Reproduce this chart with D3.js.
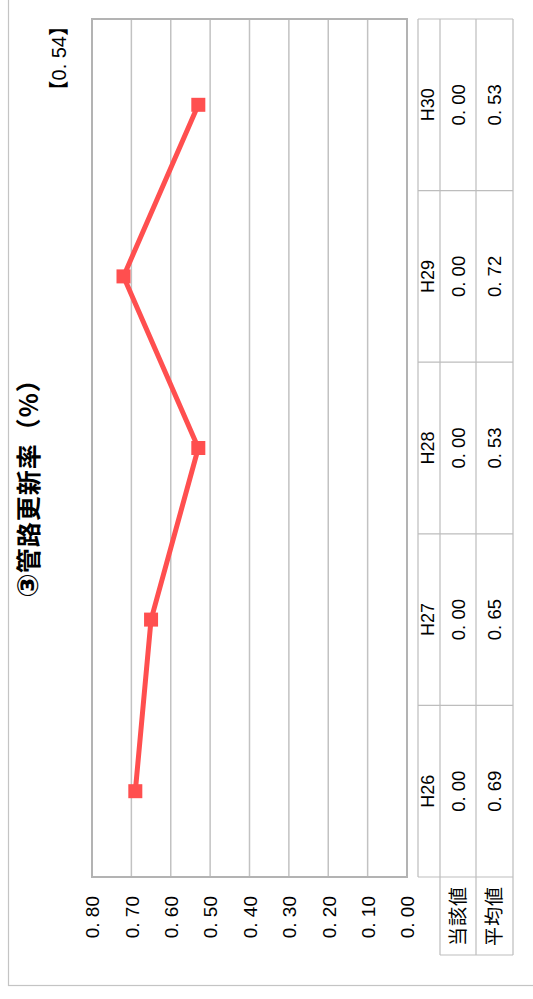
<!DOCTYPE html>
<html>
<head>
<meta charset="utf-8">
<script src="https://cdn.jsdelivr.net/npm/d3@7"></script>
<style>
    body { margin: 0; background: #fff; }
    svg { display: block; font-family: "Liberation Sans", "Noto Sans CJK JP", sans-serif; }
</style>
</head>
<body>
<div id="chart"></div>
<script>
// data
const categories = ["H26", "H27", "H28", "H29", "H30"];
const rowLabels = ["当該値", "平均値"];
const currentValues = [0.00, 0.00, 0.00, 0.00, 0.00];
const averageValues = [0.69, 0.65, 0.53, 0.72, 0.53];
const valueTicks = [0, 0.1, 0.2, 0.3, 0.4, 0.5, 0.6, 0.7, 0.8];
const refValue = 0.54;
const titleMark = "③";
const title = "管路更新率（%）";

const width = 533, height = 999;

// the whole chart is drawn turned a quarter turn, values run right-to-left
const plot = { left: 92, right: 407, top: 19, bottom: 877 };
const tableCols = [418, 440, 476, 513];
const tableBottom = 955;

const fmt = v => v.toFixed(2).replace(".", ". ");

const svg = d3.select("#chart")
    .append("svg")
    .attr("width", width)
    .attr("height", height);

// outer frame
svg.append("rect")
    .attr("x", 8.5).attr("y", -10)
    .attr("width", 600).attr("height", 995.5)
    .attr("fill", "none")
    .attr("stroke", "#c4c4c4")
    .attr("stroke-width", 1.2);

var x = d3.scaleLinear()
    .domain([0, 0.8])
    .range([plot.right, plot.left]);

var y = d3.scaleBand()
    .domain(categories)
    .range([plot.bottom, plot.top]);

// gridlines
svg.append("g")
    .selectAll("line")
    .data(valueTicks)
    .enter()
    .append("line")
        .attr("x1", d => x(d))
        .attr("x2", d => x(d))
        .attr("y1", plot.top)
        .attr("y2", plot.bottom)
        .attr("stroke", "#c2c2c2")
        .attr("stroke-width", 1.5);

// plot border
svg.append("rect")
    .attr("x", plot.left).attr("y", plot.top)
    .attr("width", plot.right - plot.left)
    .attr("height", plot.bottom - plot.top)
    .attr("fill", "none")
    .attr("stroke", "#b3b3b3")
    .attr("stroke-width", 2);

// value axis labels
const axis = svg.append("g")
    .attr("transform", `translate(0,${plot.bottom})`)
    .call(d3.axisBottom(x).tickValues(valueTicks).tickSize(0).tickFormat(fmt));
axis.select(".domain").remove();
axis.selectAll("text")
    .attr("x", 0).attr("y", 0)
    .attr("dy", "0.36em")
    .attr("transform", "translate(0,19) rotate(-90)")
    .attr("text-anchor", "end")
    .attr("fill", "#000")
    .style("font-size", "19px")
    .style("font-family", "Liberation Sans, sans-serif");

// line of averages
const pts = categories.map((c, i) => ({ c: c, v: averageValues[i] }));
const line = d3.line()
    .x(d => x(d.v))
    .y(d => y(d.c) + y.bandwidth() / 2);

svg.append("path")
    .datum(pts)
    .attr("d", line)
    .attr("fill", "none")
    .attr("stroke", "#ff4f4f")
    .attr("stroke-width", 5)
    .attr("stroke-linejoin", "round");

svg.append("g")
    .selectAll("rect")
    .data(pts)
    .enter()
    .append("rect")
        .attr("x", d => x(d.v) - 7)
        .attr("y", d => y(d.c) + y.bandwidth() / 2 - 7)
        .attr("width", 14)
        .attr("height", 14)
        .attr("fill", "#ff4f4f");

// data table
const tbl = svg.append("g")
    .attr("stroke", "#bdbdbd")
    .attr("stroke-width", 1.2);

const rowEdges = categories.map(c => y(c)).concat([plot.bottom]);
tbl.selectAll(".hline")
    .data(rowEdges)
    .enter()
    .append("line")
        .attr("x1", tableCols[0]).attr("x2", tableCols[3])
        .attr("y1", d => d).attr("y2", d => d);
tbl.append("line")
    .attr("x1", tableCols[0]).attr("x2", tableCols[0])
    .attr("y1", plot.top).attr("y2", plot.bottom);
tbl.selectAll(".vline")
    .data(tableCols.slice(1))
    .enter()
    .append("line")
        .attr("x1", d => d).attr("x2", d => d)
        .attr("y1", plot.top).attr("y2", tableBottom);
tbl.append("line")
    .attr("x1", tableCols[1]).attr("x2", tableCols[3])
    .attr("y1", tableBottom).attr("y2", tableBottom);

function vtext(g, cx, cy, str, size) {
    return g.append("text")
        .attr("transform", `translate(${cx},${cy}) rotate(-90)`)
        .attr("text-anchor", "middle")
        .attr("dy", "0.36em")
        .style("font-size", size + "px")
        .text(str);
}

const cells = svg.append("g").attr("fill", "#000");
categories.forEach((c, i) => {
    const cy = y(c) + y.bandwidth() / 2;
    vtext(cells, (tableCols[0] + tableCols[1]) / 2 - 1, cy, c, 18);
    vtext(cells, (tableCols[1] + tableCols[2]) / 2, cy, fmt(currentValues[i]), 18.5);
    vtext(cells, (tableCols[2] + tableCols[3]) / 2, cy, fmt(averageValues[i]), 18.5);
});
rowLabels.forEach((r, i) => {
    vtext(cells, (tableCols[i + 1] + tableCols[i + 2]) / 2, (plot.bottom + tableBottom) / 2, r, 19)
        .style("font-family", "Noto Sans CJK JP, sans-serif")
        .style("letter-spacing", "1px");
});

// reference value label
svg.append("text")
    .attr("transform", "translate(58.5,16) rotate(-90)")
    .attr("text-anchor", "end")
    .attr("dy", "0.36em")
    .style("font-size", "20px")
    .text("【" + fmt(refValue) + "】");

// title
const t = svg.append("text")
    .attr("transform", "translate(29,482) rotate(-90)")
    .attr("text-anchor", "middle")
    .attr("dy", "0.36em")
    .style("font-size", "25px")
    .style("font-weight", "bold")
    .style("font-family", "Noto Sans CJK JP, sans-serif");
t.append("tspan")
    .style("font-size", "29px")
    .style("font-family", "DejaVu Sans, sans-serif")
    .text(titleMark);
t.append("tspan")
    .style("letter-spacing", "1px")
    .text(title);
</script>
</body>
</html>
